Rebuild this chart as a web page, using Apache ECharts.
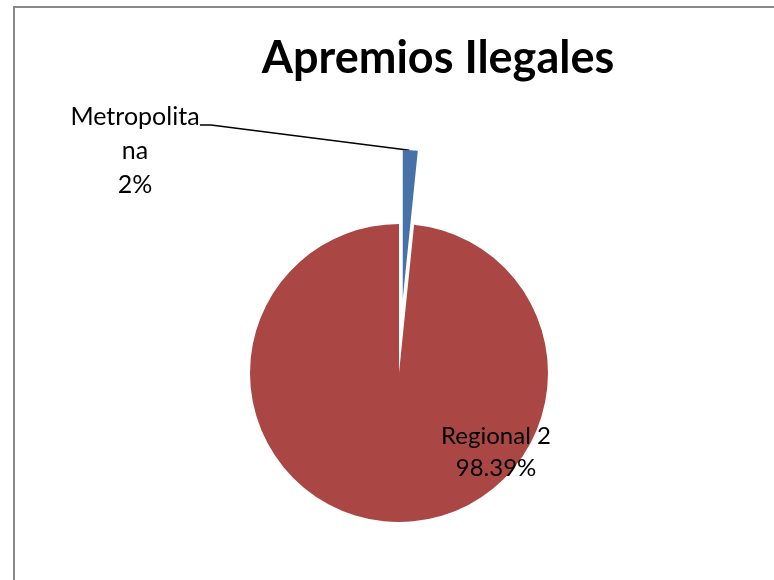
<!DOCTYPE html>
<html>
<head>
<meta charset="utf-8">
<style>
html,body{margin:0;padding:0;background:#fff;}
#chart{width:774px;height:580px;}
</style>
<script src="https://cdn.jsdelivr.net/npm/echarts@6/dist/echarts.min.js"></script>
</head>
<body>
<div id="chart"></div>
<script>
var titleText = 'Apremios Ilegales';
var categories = ['Metropolitana', 'Regional 2'];
var values = [1, 61];
var colors = ['#4672A8', '#AA4744'];
var explodedIndex = 0;

var chart = echarts.init(document.getElementById('chart'));
var font = 'Lato, "Open Sans", sans-serif';

var cx = 399, cy = 373, R = 149, offset = 74;
var total = values.reduce(function (a, b) { return a + b; }, 0);
var before = 0;
for (var k = 0; k < explodedIndex; k++) before += values[k];
var midFrac = (before + values[explodedIndex] / 2) / total;
var midAng = midFrac * 2 * Math.PI; // clockwise from top
var ox = cx + offset * Math.sin(midAng);
var oy = cy - offset * Math.cos(midAng);

function mkData(showIdx) {
  return categories.map(function (c, i) {
    var show = showIdx.indexOf(i) >= 0;
    return {
      name: c,
      value: values[i],
      itemStyle: { color: show ? colors[i] : 'rgba(0,0,0,0)' },
      label: { show: show },
      labelLine: { show: false }
    };
  });
}

var mainData = mkData([1]);
mainData[1].label = {
  show: true,
  position: 'inside',
  fontSize: 24,
  lineHeight: 32,
  formatter: function (p) { return p.name + '\n' + p.percent.toFixed(2) + '%'; }
};

var expData = mkData([0]);
expData[0].label = {
  show: true,
  position: 'outside',
  fontSize: 25,
  lineHeight: 34,
  formatter: function (p) { return 'Metropolita\nna\n' + Math.round(p.percent) + '%'; }
};
expData[0].labelLine = { show: true, lineStyle: { color: '#000', width: 1.5 } };

var common = {
  type: 'pie',
  radius: R,
  startAngle: 90,
  clockwise: true,
  selectedMode: false,
  avoidLabelOverlap: false,
  itemStyle: { borderWidth: 0 },
  emphasis: { disabled: true },
  label: { color: '#000', fontFamily: font }
};

chart.setOption({
  animation: false,
  backgroundColor: '#fff',
  title: {
    text: titleText,
    left: 433,
    top: 31,
    textAlign: 'center',
    textStyle: { fontFamily: font, fontWeight: 'bold', fontSize: 45, color: '#000' }
  },
  graphic: [{
    type: 'rect',
    shape: { x: 14, y: 7, width: 800, height: 620 },
    style: { fill: 'none', stroke: '#888', lineWidth: 2 },
    silent: true
  }],
  series: [
    Object.assign({}, common, {
      center: [cx, cy],
      labelLayout: function () {
        return { x: 496, y: 452, align: 'center', verticalAlign: 'middle' };
      },
      data: mainData
    }),
    Object.assign({}, common, {
      center: [ox, oy],
      labelLayout: function () {
        return {
          x: 135, y: 151, align: 'center', verticalAlign: 'middle',
          labelLinePoints: [[ox + R * Math.sin(midAng) - 1, oy - R * Math.cos(midAng)], [211, 125], [200, 125]]
        };
      },
      data: expData
    })
  ]
});
</script>
</body>
</html>
